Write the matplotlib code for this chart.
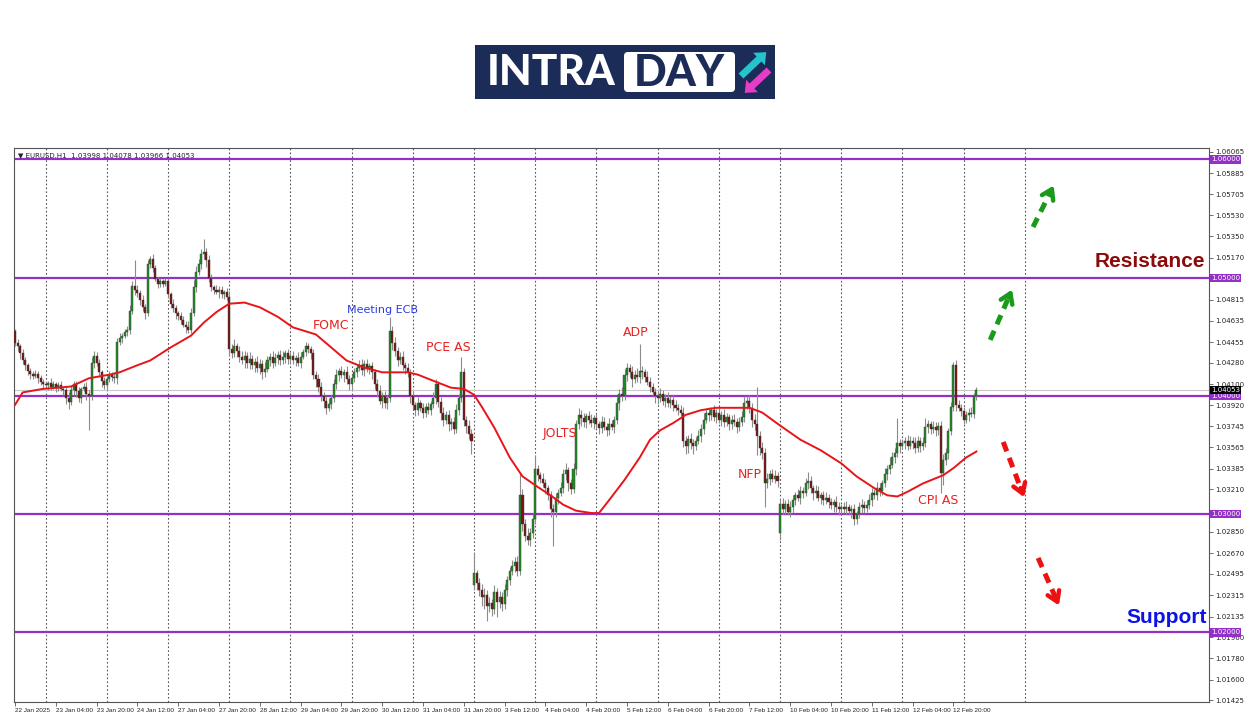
import numpy as np
import matplotlib.pyplot as plt
from matplotlib.patches import Rectangle, FancyBboxPatch, FancyArrow
from matplotlib.transforms import blended_transform_factory

# EURUSD H1, closes in pips above 1.0000; bar 0 = 22 Jan 12:00 (broker time)
close_pips = [
    # 22 Jan 12:00-23:00
    445, 442, 436, 430, 426, 421, 419, 417, 419, 415, 412, 410,
    # 23 Jan
    409, 411, 408, 410, 407, 409, 406, 405, 398, 395, 405, 410,
    404, 398, 406, 408, 402, 400, 428, 434, 428, 420, 413, 409,
    # 24 Jan
    414, 418, 416, 415, 446, 449, 451, 454, 456, 472, 493, 490,
    487, 481, 475, 470, 512, 516, 508, 499, 495, 497, 495, 497,
    # 27 Jan
    486, 478, 474, 470, 468, 464, 460, 458, 456, 470, 492, 505,
    512, 520, 522, 515, 500, 492, 490, 488, 490, 486, 488, 484,
    # 28 Jan
    440, 436, 442, 438, 433, 430, 434, 428, 431, 426, 429, 424,
    427, 420, 423, 430, 433, 428, 432, 435, 430, 433, 436, 431,
    # 29 Jan
    434, 430, 432, 428, 433, 437, 442, 440, 436, 418, 414, 408,
    400, 396, 390, 393, 398, 410, 418, 421, 418, 420, 414, 410,
    # 30 Jan
    415, 420, 424, 426, 422, 427, 423, 425, 420, 410, 404, 396,
    400, 394, 398, 455, 445, 438, 430, 433, 426, 424, 420, 400,
    # 31 Jan
    392, 388, 394, 390, 386, 391, 388, 393, 398, 410, 395, 386,
    380, 384, 376, 378, 372, 388, 398, 420, 380, 375, 368, 362,
    # 3 Feb
    250, 242, 236, 230, 232, 222, 225, 220, 234, 226, 230, 224,
    236, 244, 252, 256, 260, 252, 316, 292, 282, 278, 284, 296,
    # 4 Feb
    338, 333, 330, 326, 322, 316, 304, 302, 314, 318, 322, 334,
    337, 326, 321, 338, 376, 384, 381, 378, 383, 380, 377, 381,
    # 5 Feb
    376, 373, 378, 374, 371, 376, 374, 380, 394, 402, 400, 418,
    424, 420, 414, 418, 416, 421, 420, 416, 412, 408, 403, 400,
    # 6 Feb
    398, 402, 396, 398, 394, 397, 392, 390, 388, 386, 362, 358,
    364, 360, 358, 362, 366, 372, 380, 386, 384, 388, 382, 386,
    # 7 Feb
    380, 384, 378, 382, 376, 380, 378, 374, 378, 382, 394, 396,
    390, 380, 376, 366, 356, 352, 326, 330, 334, 330, 332, 328,
    # 10 Feb
    309, 304, 309, 302, 306, 312, 316, 314, 320, 318, 326, 328,
    322, 318, 320, 314, 316, 312, 314, 310, 308, 310, 306, 304,
    # 11 Feb
    306, 304, 306, 303, 304, 296, 300, 306, 308, 305, 308, 312,
    318, 316, 322, 320, 326, 334, 338, 342, 348, 352, 360, 358,
    # 12 Feb
    360, 362, 358, 362, 360, 356, 362, 358, 360, 374, 376, 372,
    374, 371, 375, 335, 346, 352, 370, 391, 426, 392, 390, 387,
    # 13 Feb
    380, 384, 386, 385, 399.8, 405.3,
]

# wick lengths in pips above / below the body
wick_up = [
    2, 3, 2, 4, 3, 2, 3, 2, 3, 2, 3, 2,
    3, 2, 4, 3, 2, 3, 4, 2, 3, 5, 4, 3, 3, 4, 2, 3, 4, 3, 5, 4, 3, 3, 2, 3,
    3, 3, 2, 4, 3, 4, 2, 3, 3, 5, 4, 22, 4, 3, 4, 3, 3, 2, 4, 3, 2, 3, 2, 3,
    3, 2, 4, 3, 2, 3, 4, 3, 5, 4, 6, 5, 4, 4, 11, 3, 4, 3, 2, 4, 3, 3, 2, 3,
    5, 4, 6, 3, 4, 5, 4, 3, 6, 4, 3, 5, 4, 3, 6, 4, 3, 5, 4, 3, 4, 5, 3, 4,
    3, 4, 3, 5, 4, 3, 4, 3, 2, 4, 3, 5, 4, 3, 4, 5, 3, 4, 5, 3, 4, 3, 5, 4,
    3, 4, 3, 4, 5, 3, 4, 3, 4, 3, 4, 5, 3, 4, 3, 12, 4, 5, 3, 4, 5, 3, 4, 3,
    4, 3, 5, 3, 4, 3, 4, 3, 5, 4, 3, 4, 5, 3, 4, 3, 4, 5, 4, 13, 4, 3, 5, 4,
    18, 3, 4, 5, 6, 4, 5, 3, 6, 4, 5, 4, 5, 4, 3, 5, 4, 5, 20, 5, 4, 6, 4, 5,
    12, 4, 3, 5, 4, 3, 4, 5, 4, 3, 5, 4, 6, 3, 4, 5, 4, 6, 4, 5, 3, 4, 5, 3,
    4, 3, 5, 4, 3, 5, 4, 3, 5, 4, 6, 5, 4, 3, 5, 4, 6, 23, 4, 3, 5, 4, 3, 4,
    4, 5, 3, 4, 5, 3, 4, 5, 3, 4, 5, 4, 3, 5, 4, 3, 5, 4, 6, 4, 5, 3, 4, 3,
    4, 3, 5, 4, 3, 4, 5, 3, 4, 5, 6, 4, 5, 4, 5, 32, 4, 5, 4, 5, 3, 4, 5, 4,
    4, 5, 3, 4, 5, 4, 3, 5, 4, 3, 5, 8, 4, 3, 5, 4, 3, 4, 5, 3, 4, 3, 5, 4,
    3, 4, 5, 3, 4, 5, 3, 4, 5, 3, 4, 5, 4, 3, 5, 4, 3, 5, 4, 6, 5, 4, 21, 4,
    4, 3, 5, 4, 3, 5, 4, 3, 5, 7, 4, 3, 5, 4, 3, 4, 5, 4, 3, 4, 3, 4, 5, 3,
    4, 3, 4, 5, 3, 2.5,
]
wick_dn = [
    3, 4, 5, 3, 4, 3, 5, 3, 2, 4, 3, 4,
    2, 4, 3, 2, 4, 3, 2, 4, 5, 6, 3, 4, 5, 3, 4, 2, 5, 29, 3, 4, 3, 4, 5, 3,
    4, 2, 3, 4, 5, 3, 4, 2, 3, 4, 3, 5, 3, 4, 3, 5, 2, 4, 3, 2, 4, 3, 3, 2,
    3, 4, 3, 5, 4, 3, 2, 5, 3, 3, 2, 4, 3, 5, 4, 6, 4, 3, 4, 2, 5, 3, 4, 3,
    6, 4, 3, 5, 4, 3, 6, 4, 5, 3, 6, 4, 5, 6, 4, 3, 5, 4, 3, 5, 4, 3, 5, 4,
    4, 3, 5, 3, 4, 2, 3, 4, 5, 4, 6, 5, 4, 6, 5, 3, 4, 3, 4, 5, 3, 6, 4, 5,
    5, 3, 4, 3, 4, 5, 3, 4, 6, 4, 5, 3, 6, 4, 5, 3, 6, 4, 5, 3, 4, 5, 4, 6,
    3, 5, 4, 3, 5, 4, 3, 4, 3, 5, 4, 6, 5, 4, 6, 5, 4, 3, 4, 3, 5, 6, 4, 11,
    4, 6, 5, 8, 10, 12, 5, 6, 4, 13, 5, 6, 4, 5, 4, 3, 5, 4, 3, 6, 5, 4, 5, 4,
    4, 5, 4, 3, 5, 4, 6, 29, 4, 5, 3, 4, 5, 6, 4, 3, 5, 4, 6, 4, 5, 4, 3, 5,
    3, 5, 4, 3, 5, 4, 3, 5, 4, 6, 4, 3, 5, 4, 6, 3, 4, 5, 6, 4, 3, 5, 4, 6,
    5, 3, 4, 5, 3, 4, 5, 3, 4, 3, 5, 7, 6, 5, 7, 4, 3, 5, 4, 3, 5, 4, 3, 5,
    3, 5, 4, 3, 5, 4, 3, 5, 4, 3, 4, 5, 4, 6, 5, 16, 6, 5, 20, 4, 5, 3, 4, 5,
    6, 4, 5, 3, 4, 5, 4, 3, 5, 4, 3, 5, 4, 6, 4, 3, 5, 4, 3, 5, 4, 6, 4, 5,
    4, 3, 5, 4, 6, 5, 4, 3, 5, 4, 3, 4, 5, 3, 4, 5, 4, 3, 5, 4, 3, 5, 4, 6,
    3, 5, 4, 3, 5, 4, 3, 5, 4, 3, 5, 4, 3, 5, 4, 17, 10, 4, 5, 3, 4, 5, 3, 4,
    4, 3, 5, 3, 4, 3.2,
]
first_open = 455
gap_bars = [180, 300]
gap_opens = [240, 284]

# red moving average (bar index, pips)
ma_bars = [0, 3, 11, 22, 29, 37, 41, 48, 53, 61, 69, 74, 79, 84, 90, 96, 103,
           109, 118, 124, 130, 137, 144, 154, 158, 165, 171, 176, 180, 183,
           188, 194, 199, 205, 210, 215, 220, 226, 229, 233, 239, 245, 249,
           253, 258, 263, 269, 275, 284, 288, 293, 300, 308, 316, 324, 330,
           337, 342, 346, 350, 356, 364, 368, 373, 377]
ma_pips = [392.5, 403, 406, 408, 415, 418, 420, 426, 430, 441, 451, 462, 471,
           478, 479, 475, 467, 458, 452, 441, 430, 424, 420, 420, 418, 412,
           407, 406, 401, 391, 373, 348, 332, 323, 316, 308, 303, 301, 301,
           312, 329, 348, 363, 371, 377, 384, 388, 390, 390, 390, 386, 375,
           363, 354, 343, 332, 322, 316, 315, 319, 326, 333, 339, 348, 353]

levels = [1.060, 1.050, 1.040, 1.030, 1.020]
last_price = 1.04053
price_ticks = [1.06065, 1.05885, 1.05705, 1.05530, 1.05350, 1.05170, 1.04815,
               1.04635, 1.04455, 1.04280, 1.04100, 1.03920, 1.03745, 1.03565,
               1.03385, 1.03210, 1.02850, 1.02670, 1.02495, 1.02315,
               1.02135, 1.01960, 1.01780, 1.01600, 1.01425]
time_labels = ['22 Jan 2025', '23 Jan 04:00', '23 Jan 20:00', '24 Jan 12:00',
               '27 Jan 04:00', '27 Jan 20:00', '28 Jan 12:00', '29 Jan 04:00',
               '29 Jan 20:00', '30 Jan 12:00', '31 Jan 04:00', '31 Jan 20:00',
               '3 Feb 12:00', '4 Feb 04:00', '4 Feb 20:00', '5 Feb 12:00',
               '6 Feb 04:00', '6 Feb 20:00', '7 Feb 12:00', '10 Feb 04:00',
               '10 Feb 20:00', '11 Feb 12:00', '12 Feb 04:00', '12 Feb 20:00']

# event labels: text, bar, price, colour, size
events = [('FOMC', 124, 1.0460, '#e8211f', 9),
          ('Meeting ECB', 144, 1.04727, '#2b3be0', 8),
          ('PCE AS', 170, 1.04414, '#e8211f', 9),
          ('JOLTS', 213.5, 1.03679, '#e8211f', 9),
          ('ADP', 243.5, 1.0454, '#e8211f', 9),
          ('NFP', 288, 1.03332, '#e8211f', 9),
          ('CPI AS', 362, 1.0312, '#e8211f', 9)]

W, H = 1250, 716
fig = plt.figure(figsize=(W / 100, H / 100), dpi=100)
fig.patch.set_facecolor('white')

# ---- logo (drawn in pixel space) ----
lg = fig.add_axes([0, 0, 1, 1], zorder=-1)
lg.set_xlim(0, W)
lg.set_ylim(H, 0)
lg.axis('off')
navy = '#1c2c58'
lg.add_patch(Rectangle((475, 45), 300, 54, facecolor=navy, edgecolor='none'))
lg.add_patch(FancyBboxPatch((624, 52), 111, 40,
                            boxstyle='round,pad=0,rounding_size=4',
                            facecolor='white', edgecolor='none'))
lg.text(551, 73, 'INTRA', color='white', fontsize=30.5, fontweight='black',
        family='Lato', ha='center', va='center')
lg.text(679, 73, 'DAY', color=navy, fontsize=31, fontweight='black',
        family='Lato', ha='center', va='center')
lg.add_patch(FancyArrow(741, 76, 18, -17, width=7, head_width=17,
                        head_length=10, length_includes_head=False,
                        facecolor='#23c4cc', edgecolor='none'))
lg.add_patch(FancyArrow(769, 70, -17, 16, width=7, head_width=17,
                        head_length=10, length_includes_head=False,
                        facecolor='#e63cc8', edgecolor='none'))

# ---- chart ----
ax = fig.add_axes([14 / W, 14 / H, 1195 / W, 554 / H])
ax.set_xlim(-0.4, 468.2)
ax.set_ylim(1.01412, 1.06097)

closes = 1 + np.array(close_pips, dtype=float) / 1e4
opens = np.empty_like(closes)
opens[0] = 1 + first_open / 1e4
opens[1:] = closes[:-1]
for b, o in zip(gap_bars, gap_opens):
    opens[b] = 1 + o / 1e4
highs = np.maximum(opens, closes) + np.array(wick_up) / 1e4
lows = np.minimum(opens, closes) - np.array(wick_dn) / 1e4
x = np.arange(len(closes))

# day separators
for g in range(12, 400, 24):
    ax.axvline(g, color='#555555', lw=0.8, ls=(0, (1.5, 2.0)), zorder=1)

for lv in levels:
    ax.axhline(lv, color='#9330c8', lw=1.6, zorder=2)
ax.axhline(last_price, color='#c8c8c8', lw=0.8, zorder=1.5)

ax.vlines(x, lows, highs, color='#8c8c8c', lw=0.8, zorder=3)
up = closes >= opens
bot = np.minimum(opens, closes)
hgt = np.maximum(np.abs(closes - opens), 0.00004)
ax.bar(x[up], hgt[up], bottom=bot[up], width=0.8, color='#1f8c22',
       edgecolor='#3c3c3c', lw=0.3, zorder=4)
ax.bar(x[~up], hgt[~up], bottom=bot[~up], width=0.8, color='#7a1414',
       edgecolor='#3c3c3c', lw=0.3, zorder=4)

ax.plot(ma_bars, 1 + np.array(ma_pips) / 1e4, color='#e8141b', lw=1.4, zorder=5)

for txt, b, p, c, fs in events:
    ax.text(b, p, txt, color=c, fontsize=fs, ha='center', va='center', zorder=6)

ax.text(445, 1.05133, 'Resistance', color='#8b0a0a', fontsize=15,
        fontweight='bold', family=['Liberation Sans Narrow', 'Liberation Sans'],
        ha='center', va='center', zorder=6)
ax.text(451.5, 1.0213, 'Support', color='#0a14e6', fontsize=15,
        fontweight='bold', family=['Liberation Sans Narrow', 'Liberation Sans'],
        ha='center', va='center', zorder=6)

# dashed direction arrows
arrows = [((382.4, 1.04474), (391.4, 1.04922), '#1a9a1a'),
          ((399.2, 1.05429), (407.8, 1.05801), '#1a9a1a'),
          ((387.5, 1.03611), (396.1, 1.03121), '#ee1111'),
          ((401.2, 1.02630), (409.8, 1.02207), '#ee1111')]
for (x0, y0), (x1, y1), c in arrows:
    ax.plot([x0, x0 + 0.8 * (x1 - x0)], [y0, y0 + 0.8 * (y1 - y0)], color=c,
            lw=3.6, dashes=(2.0, 1.4), solid_capstyle='butt', zorder=6)
    ax.annotate('', xy=(x1, y1), xytext=(x0 + 0.75 * (x1 - x0), y0 + 0.75 * (y1 - y0)),
                arrowprops=dict(arrowstyle='->,head_length=0.7,head_width=0.45',
                                color=c, lw=3.2), zorder=6)

# ---- axes cosmetics (MT4 look) ----
for s in ax.spines.values():
    s.set_color('#555555')
    s.set_linewidth(0.8)
ax.yaxis.tick_right()
ax.set_yticks(price_ticks)
ax.set_yticklabels([f'{v:.5f}' for v in price_ticks])
ax.set_xticks(np.arange(len(time_labels)) * 16)
ax.set_xticklabels(time_labels, ha='left', family='Liberation Sans')
ax.tick_params(axis='y', labelsize=5, length=3, width=0.6, color='#555555',
               pad=1.5, labelcolor='#222222')
ax.tick_params(axis='x', labelsize=4.6, length=3, width=0.6, color='#555555',
               pad=1.5, labelcolor='#222222')

tr = blended_transform_factory(ax.transAxes, ax.transData)
for lv in levels:
    ax.text(1.0015, lv, f'{lv:.5f}', transform=tr, fontsize=5, color='white',
            va='center', ha='left', zorder=10, clip_on=False,
            bbox=dict(boxstyle='square,pad=0.15', fc='#9330c8', ec='none'))
ax.text(1.0015, last_price, f'{last_price:.5f}', transform=tr, fontsize=5,
        color='white', va='center', ha='left', zorder=10, clip_on=False,
        bbox=dict(boxstyle='square,pad=0.15', fc='black', ec='none'))

ax.text(0.003, 0.993, '\u25bc EURUSD.H1  1.03998 1.04078 1.03966 1.04053',
        transform=ax.transAxes, fontsize=5, color='#222222', va='top', ha='left')

fig.savefig('out.png', dpi=100)
